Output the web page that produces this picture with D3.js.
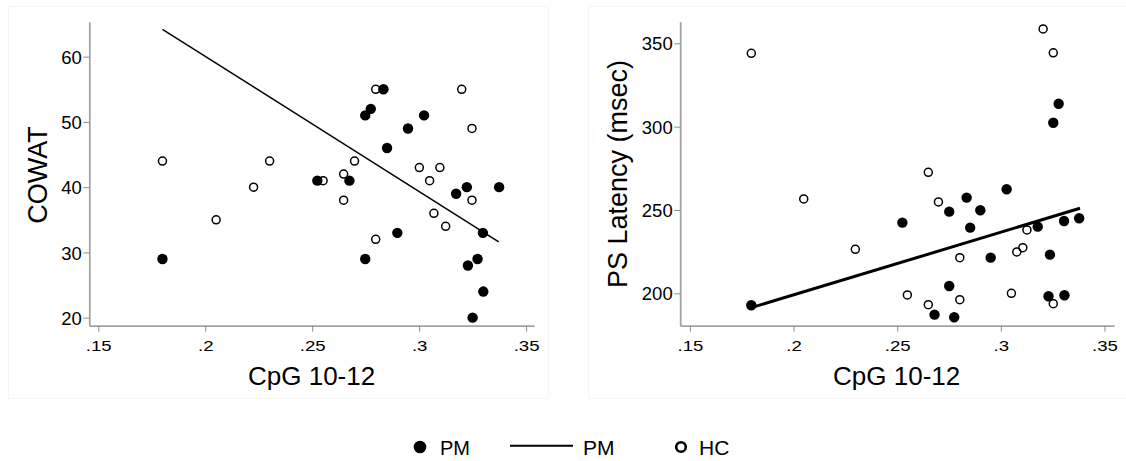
<!DOCTYPE html>
<html>
<head>
<meta charset="utf-8">
<script src="https://cdn.jsdelivr.net/npm/d3@7"></script>
<style>
  body { margin: 0; background: #fff; }
  text { font-family: "Liberation Sans", Arial, sans-serif; fill: #000; }
</style>
</head>
<body>
<div id="chart"></div>
<script>
// values: [CpG 10-12, score]
var cowatPM = [[.2524,41],[.2674,41],[.2748,51],[.2774,52],[.2833,55],[.2948,49],[.3023,51],
  [.285,46],[.3173,39],[.3223,40],[.3374,40],[.18,29],[.2898,33],[.2748,29],[.3298,33],
  [.3273,29],[.3228,28],[.33,24],[.325,20]];
var cowatHC = [[.18,44],[.2226,40],[.2301,44],[.2551,41],[.2647,42],[.2647,38],[.2698,44],
  [.2797,55],[.2797,32],[.3001,43],[.3049,41],[.3097,43],[.3199,55],[.3247,49],[.3247,38],
  [.2051,35],[.3069,36],[.3124,34]];
var cowatFit = [[.18,64.2],[.3372,31.6]];

var psPM = [[.1796,192.8],[.2525,242.4],[.2751,249],[.2835,257.4],[.2901,249.8],[.2852,239.4],
  [.3028,262.4],[.2951,221.4],[.3178,240],[.3305,243.4],[.3378,245],[.3237,223.2],[.2751,204.4],
  [.268,187.2],[.2775,185.6],[.323,198.2],[.3307,198.8],[.3279,313.7],[.3253,302.3]];
var psHC = [[.1796,344],[.3204,358.6],[.3253,344.3],[.265,272.6],[.2049,256.6],[.2699,254.8],
  [.2298,226.4],[.2802,221.4],[.3126,238],[.3077,224.8],[.3106,227.4],[.2549,199],[.265,193.2],
  [.2802,196.2],[.3051,200],[.3253,193.8]];
var psFit = [[.1796,191.4],[.3382,251]];

var xTicks = [.15, .2, .25, .3, .35];
var xTickLabels = [".15", ".2", ".25", ".3", ".35"];
var cowatTicks = [20, 30, 40, 50, 60];
var psTicks = [200, 250, 300, 350];

var width = 1126, height = 461;

var svg = d3.select("#chart").append("svg")
  .attr("width", width)
  .attr("height", height);

// very faint panel frames
svg.append("rect").attr("x", 8.5).attr("y", 6.5).attr("width", 540).attr("height", 392)
  .attr("fill", "none").attr("stroke", "#f5f5f5");
svg.append("rect").attr("x", 588.5).attr("y", 6.5).attr("width", 545).attr("height", 392)
  .attr("fill", "none").attr("stroke", "#f5f5f5");

function panel(opt){
  var x = d3.scaleLinear().domain(opt.xDomain).range(opt.xRange);
  var y = d3.scaleLinear().domain(opt.yDomain).range([325.7, 21.7]);
  var g = svg.append("g");

  var xAxis = g.append("g")
    .attr("transform", "translate(0,325.7)")
    .call(d3.axisBottom(x).tickValues(xTicks)
      .tickFormat(function(d, i){ return xTickLabels[i]; })
      .tickSize(6).tickSizeOuter(0));
  var yAxis = g.append("g")
    .attr("transform", "translate(" + opt.xRange[0] + ",0)")
    .call(d3.axisLeft(y).tickValues(opt.yTicks)
      .tickSize(6).tickSizeOuter(0).tickPadding(1.5));

  [xAxis, yAxis].forEach(function(a){
    a.select(".domain").attr("stroke", "#a3a3a3").attr("stroke-width", 1.8);
    a.selectAll(".tick line").attr("stroke", "#8c8c8c").attr("stroke-width", 1);
    a.selectAll(".tick text")
      .attr("font-family", "Liberation Sans, Arial, sans-serif").attr("fill", "#000");
  });
  // stata's tick labels are a little wide and short
  xAxis.selectAll(".tick text")
    .attr("font-size", 15.5)
    .attr("y", 25).attr("dy", null)
    .attr("transform", "scale(1.2,1)");
  yAxis.selectAll(".tick text")
    .attr("font-size", 18.5)
    .attr("dy", "0.36em");

  // fit line
  g.append("path")
    .datum(opt.fit)
    .attr("d", d3.line().x(function(d){ return x(d[0]); }).y(function(d){ return y(d[1]); }))
    .attr("fill", "none")
    .attr("stroke", "#000")
    .attr("stroke-width", opt.fitWidth);

  g.selectAll(".pm").data(opt.pm).enter().append("circle")
    .attr("class", "pm")
    .attr("cx", function(d){ return x(d[0]); })
    .attr("cy", function(d){ return y(d[1]); })
    .attr("r", 5.2)
    .attr("fill", "#000");

  g.selectAll(".hc").data(opt.hc).enter().append("circle")
    .attr("class", "hc")
    .attr("cx", function(d){ return x(d[0]); })
    .attr("cy", function(d){ return y(d[1]); })
    .attr("r", 4)
    .attr("fill", "none")
    .attr("stroke", "#000")
    .attr("stroke-width", 1.5);

  // axis titles
  g.append("text")
    .attr("x", opt.xTitleX).attr("y", 385)
    .attr("text-anchor", "middle")
    .attr("font-size", 26)
    .text("CpG 10-12");
  g.append("text")
    .attr("transform", "translate(" + opt.yTitleX + "," + opt.yTitleY + ") rotate(-90)")
    .attr("text-anchor", "middle")
    .attr("font-size", 27)
    .text(opt.yTitle);
}

panel({
  xDomain: [.1458, .3537], xRange: [89.3, 534],
  yDomain: [18.77, 65.36], yTicks: cowatTicks,
  pm: cowatPM, hc: cowatHC, fit: cowatFit, fitWidth: 1.5,
  xTitleX: 311.6, yTitle: "COWAT", yTitleX: 46.5, yTitleY: 175
});

panel({
  xDomain: [.1453, .3546], xRange: [680.2, 1114],
  yDomain: [180.56, 362.96], yTicks: psTicks,
  pm: psPM, hc: psHC, fit: psFit, fitWidth: 3,
  xTitleX: 896.7, yTitle: "PS Latency (msec)", yTitleX: 626.5, yTitleY: 174
});

// legend
var legend = svg.append("g");
legend.append("circle").attr("cx", 420).attr("cy", 447).attr("r", 6.3).attr("fill", "#000");
legend.append("text").attr("x", 440).attr("y", 454.5).attr("font-size", 20).text("PM");
legend.append("line").attr("x1", 510).attr("x2", 573).attr("y1", 445.7).attr("y2", 445.7)
  .attr("stroke", "#000").attr("stroke-width", 2);
legend.append("text").attr("x", 583).attr("y", 454.5).attr("font-size", 21).text("PM");
legend.append("circle").attr("cx", 681).attr("cy", 447).attr("r", 4.8)
  .attr("fill", "none").attr("stroke", "#000").attr("stroke-width", 2.6);
legend.append("text").attr("x", 699).attr("y", 454.5).attr("font-size", 21).text("HC");
</script>
</body>
</html>
